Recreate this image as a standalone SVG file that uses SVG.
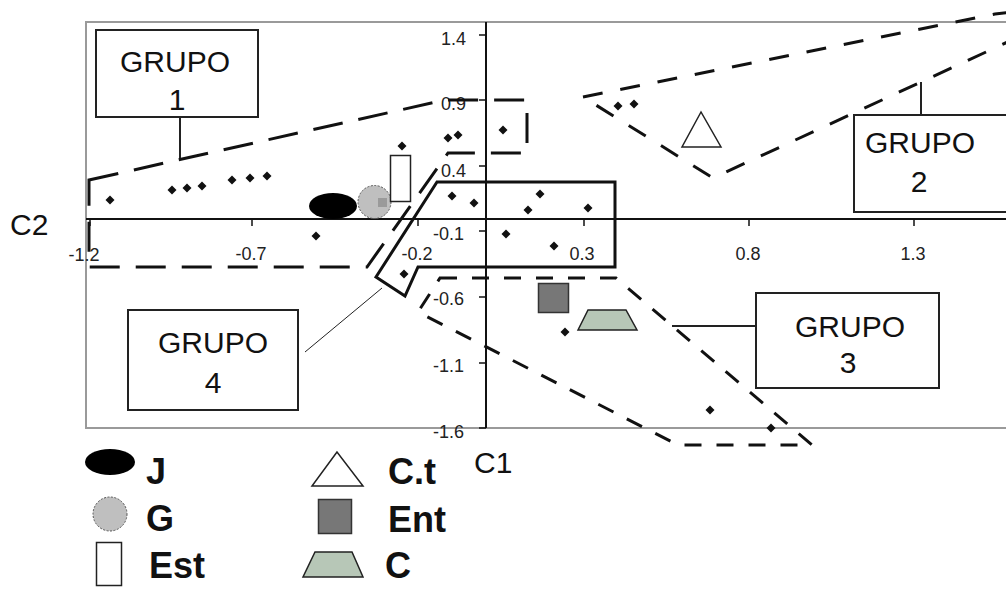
<svg xmlns="http://www.w3.org/2000/svg" xmlns:xlink="http://www.w3.org/1999/xlink" width="1006" height="592" viewBox="0 0 1006 592">
<defs>
<style>
.frame{fill:none;stroke:#9a9a9a;stroke-width:2}
.axis{stroke:#111;stroke-width:2;fill:none}
.tick{stroke:#111;stroke-width:1.5}
.tl{font-family:"Liberation Sans",Arial,sans-serif;font-size:18px;fill:#222}
.ax{font-family:"Liberation Sans",Arial,sans-serif;font-size:30px;fill:#111}
.box{fill:#fff;stroke:#222;stroke-width:2}
.gt{font-family:"Liberation Sans",Arial,sans-serif;font-size:30px;fill:#111;text-anchor:middle}
.lead{stroke:#222;stroke-width:2;fill:none}
.g1{fill:none;stroke:#111;stroke-width:3;stroke-dasharray:30 16}
.g2{fill:none;stroke:#111;stroke-width:3;stroke-dasharray:20 18}
.g3{fill:none;stroke:#111;stroke-width:3;stroke-dasharray:17 15}
.g4{fill:none;stroke:#111;stroke-width:3}
.leg{font-family:"Liberation Sans",Arial,sans-serif;font-size:36px;font-weight:bold;fill:#111}
.dot{fill:#111}
</style>
<path id="d" d="M0,-4.5 L4.5,0 L0,4.5 L-4.5,0 Z"/>
</defs>
<rect width="1006" height="592" fill="#fff"/>

<g id="frame">
<path class="frame" d="M1010,22 L86,22 L86,428 L1010,428"/>
</g>

<g id="axes">
<line class="axis" x1="486" y1="22" x2="486" y2="428"/>
<line class="axis" x1="86" y1="219" x2="1010" y2="219"/>
<g class="tick">
<line x1="479" y1="35" x2="486" y2="35"/>
<line x1="479" y1="100" x2="486" y2="100"/>
<line x1="479" y1="166" x2="486" y2="166"/>
<line x1="479" y1="231" x2="486" y2="231"/>
<line x1="479" y1="297" x2="486" y2="297"/>
<line x1="479" y1="363" x2="486" y2="363"/>
<line x1="479" y1="428" x2="486" y2="428"/>
<line x1="90" y1="219" x2="90" y2="226"/>
<line x1="252" y1="219" x2="252" y2="226"/>
<line x1="418" y1="219" x2="418" y2="226"/>
<line x1="584" y1="219" x2="584" y2="226"/>
<line x1="749" y1="219" x2="749" y2="226"/>
<line x1="914" y1="219" x2="914" y2="226"/>
</g>
<g class="tl" text-anchor="end">
<text x="466" y="45">1.4</text>
<text x="466" y="110">0.9</text>
<text x="466" y="177">0.4</text>
<text x="464" y="240">-0.1</text>
<text x="464" y="305">-0.6</text>
<text x="464" y="372">-1.1</text>
<text x="464" y="438">-1.6</text>
</g>
<g class="tl" text-anchor="middle">
<text x="84" y="261">-1.2</text>
<text x="251" y="260">-0.7</text>
<text x="417" y="260">-0.2</text>
<text x="582" y="260">0.3</text>
<text x="748" y="260">0.8</text>
<text x="913" y="260">1.3</text>
</g>
<text class="ax" x="10" y="235">C2</text>
<text class="ax" x="474" y="473">C1</text>
</g>

<g id="connectors">
<path class="g1" d="M89,180 L445,100 L527,100 L527,153 L448,153 L367,267 L89,267 Z"/>
<path class="g2" d="M583,97 L995,14 L1012,12 L1012,40 L713,178 Z"/>
<path class="g3" d="M440,278 L616,278 L812,445 L678,445 L418,312 Z"/>
<path class="g4" d="M437,182 L615,182 L615,267 L418,267 L405,296 L376,277 Z"/>
<line class="lead" x1="180" y1="117" x2="180" y2="158"/>
<line class="lead" x1="921" y1="82" x2="921" y2="115"/>
<line class="lead" x1="672" y1="326" x2="756" y2="326"/>
<line stroke="#222" stroke-width="1" x1="382" y1="288" x2="305" y2="352"/>
</g>

<g id="points">
<use xlink:href="#d" class="dot" x="110" y="200"/>
<use xlink:href="#d" class="dot" x="172" y="190"/>
<use xlink:href="#d" class="dot" x="187" y="188"/>
<use xlink:href="#d" class="dot" x="202" y="186"/>
<use xlink:href="#d" class="dot" x="232" y="180"/>
<use xlink:href="#d" class="dot" x="250" y="178"/>
<use xlink:href="#d" class="dot" x="267" y="176"/>
<use xlink:href="#d" class="dot" x="316" y="236"/>
<use xlink:href="#d" class="dot" x="402" y="146"/>
<use xlink:href="#d" class="dot" x="448" y="138"/>
<use xlink:href="#d" class="dot" x="458" y="135"/>
<use xlink:href="#d" class="dot" x="503" y="130"/>
<use xlink:href="#d" class="dot" x="452" y="196"/>
<use xlink:href="#d" class="dot" x="474" y="203"/>
<use xlink:href="#d" class="dot" x="506" y="234"/>
<use xlink:href="#d" class="dot" x="528" y="210"/>
<use xlink:href="#d" class="dot" x="540" y="194"/>
<use xlink:href="#d" class="dot" x="588" y="208"/>
<use xlink:href="#d" class="dot" x="554" y="246"/>
<use xlink:href="#d" class="dot" x="404" y="274"/>
<use xlink:href="#d" class="dot" x="618" y="106"/>
<use xlink:href="#d" class="dot" x="634" y="104"/>
<use xlink:href="#d" class="dot" x="565" y="332"/>
<use xlink:href="#d" class="dot" x="710" y="410"/>
<use xlink:href="#d" class="dot" x="771" y="428"/>
</g>

<g id="markers">
<ellipse cx="333" cy="206" rx="24" ry="13" fill="#000"/>
<circle cx="374.5" cy="202" r="16.5" fill="#bfbfbf" stroke="#555" stroke-width="1" stroke-dasharray="2 1.5"/>
<rect x="378" y="198" width="9" height="9" fill="#9a9a9a"/>
<rect x="390.5" y="155.5" width="20" height="46" fill="#fff" stroke="#222" stroke-width="1.5"/>
<polygon points="701,112 682,147 721,147" fill="#fff" stroke="#222" stroke-width="1.5"/>
<rect x="538.5" y="283.5" width="30" height="29" fill="#777" stroke="#333" stroke-width="1.5"/>
<polygon points="588,310 626,310 637,330 578,330" fill="#b7c7b7" stroke="#222" stroke-width="1.5"/>
</g>

<g id="grupo1">
<rect class="box" x="96" y="30" width="162" height="87"/>
<text class="gt" x="175" y="72">GRUPO</text>
<text class="gt" x="177" y="110">1</text>
</g>
<g id="grupo2">
<rect class="box" x="854" y="115" width="200" height="97"/>
<text class="gt" x="920" y="153">GRUPO</text>
<text class="gt" x="919" y="192">2</text>
</g>
<g id="grupo3">
<rect class="box" x="756" y="293" width="183" height="95"/>
<text class="gt" x="850" y="337">GRUPO</text>
<text class="gt" x="848" y="373">3</text>
</g>
<g id="grupo4">
<rect class="box" x="128" y="310" width="170" height="100"/>
<text class="gt" x="213" y="353">GRUPO</text>
<text class="gt" x="213" y="393">4</text>
</g>

<g id="legend">
<ellipse cx="110" cy="462" rx="25" ry="13" fill="#000"/>
<text class="leg" x="146" y="484">J</text>
<circle cx="110" cy="514" r="17" fill="#bfbfbf" stroke="#555" stroke-width="1" stroke-dasharray="2 1.5"/>
<text class="leg" x="146" y="531">G</text>
<rect x="96.5" y="542.5" width="25" height="43" fill="#fff" stroke="#222" stroke-width="1.5"/>
<text class="leg" x="149" y="578">Est</text>
<polygon points="337,452 312,486 363,486" fill="#fff" stroke="#222" stroke-width="1.5"/>
<text class="leg" x="388" y="484">C.t</text>
<rect x="318.5" y="499.5" width="33" height="34" fill="#777" stroke="#333" stroke-width="1.5"/>
<text class="leg" x="388" y="532">Ent</text>
<polygon points="315,552 352,552 363,577 303,577" fill="#b7c7b7" stroke="#222" stroke-width="1.5"/>
<text class="leg" x="385" y="578">C</text>
</g>
</svg>
